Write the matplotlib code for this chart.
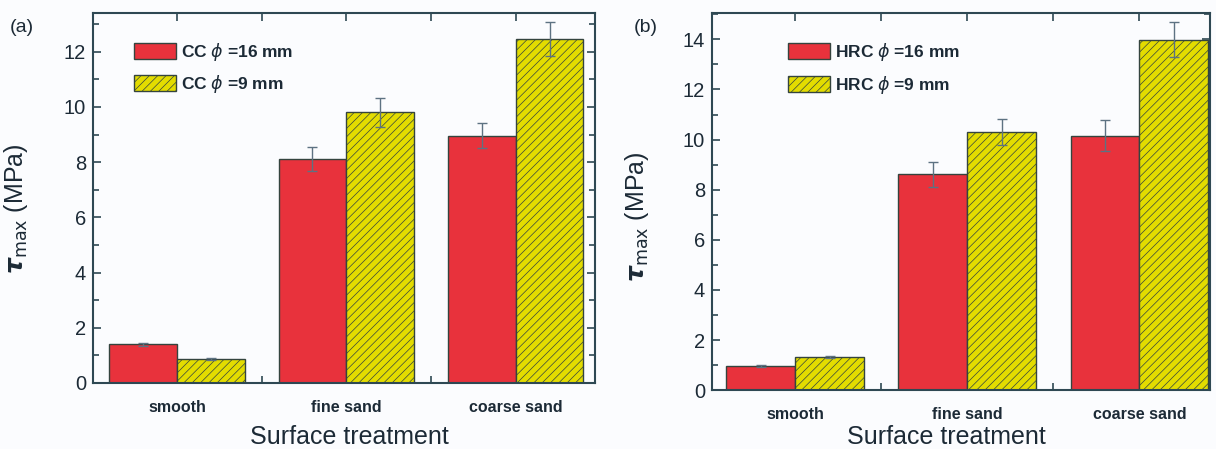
import numpy as np
from matplotlib import pyplot as plt
from matplotlib.ticker import MultipleLocator

# valeurs
traitements = ["smooth", "fine sand", "coarse sand"]

cc_16 = [1.40, 8.12, 8.95]
cc_16_err = [0.05, 0.43, 0.45]
cc_9 = [0.87, 9.80, 12.45]
cc_9_err = [0.03, 0.52, 0.62]

hrc_16 = [0.96, 8.62, 10.16]
hrc_16_err = [0.03, 0.50, 0.62]
hrc_9 = [1.32, 10.30, 13.98]
hrc_9_err = [0.05, 0.52, 0.70]

plt.rcParams['font.family'] = ['Liberation Sans', 'DejaVu Sans']
plt.rcParams['mathtext.fontset'] = 'dejavusans'
plt.rcParams['hatch.linewidth'] = 0.5

rouge = '#e8323c'
jaune = '#e3dc00'
bord = '#34443e'
txt = '#1c2a36'
axe = '#2e4853'
err_c = '#5d7282'

f = plt.figure(figsize=(12.16, 4.49), dpi=100, facecolor='#fbfcfe')
ax_a = f.add_axes([0.0765, 0.147, 0.4125, 0.824])
ax_b = f.add_axes([0.5855, 0.131, 0.4095, 0.840])


def panneau(ax, v16, e16, v9, e9, nom, ymax, xlim, leg_xy, ylab_xy, xlab_xy):
    x = np.arange(len(traitements))
    ax.set_facecolor('#fbfcfe')
    ax.bar(x - 0.2, v16, 0.4, color=rouge, edgecolor=bord, linewidth=1,
           label=nom + r' $\phi$ =16 mm', zorder=2)
    ax.bar(x + 0.2, v9, 0.4, color=jaune, edgecolor=bord, linewidth=1,
           hatch='////', label=nom + r' $\phi$ =9 mm', zorder=2)
    ax.errorbar(x - 0.2, v16, yerr=e16, fmt='none', ecolor=err_c,
                elinewidth=1, capsize=3.5, capthick=1, zorder=3)
    ax.errorbar(x + 0.2, v9, yerr=e9, fmt='none', ecolor=err_c,
                elinewidth=1, capsize=3.5, capthick=1, zorder=3)

    ax.set_xlim(*xlim)
    ax.set_ylim(0, ymax)
    ax.yaxis.set_major_locator(MultipleLocator(2))
    ax.yaxis.set_minor_locator(MultipleLocator(1))
    ax.set_xticks(x)
    ax.set_xticklabels(traitements, fontsize=11.5, fontweight='bold', color=txt)
    ax.set_xticks([0.5, 1.5], minor=True)
    ax.tick_params(axis='x', which='major', length=0, pad=12)
    ax.tick_params(axis='x', which='minor', direction='in', length=5,
                   width=1.2, color=axe, top=False)
    ax.tick_params(axis='y', which='both', direction='in', right=True,
                   color=axe, width=1.2, labelsize=14.5, labelcolor=txt, pad=5)
    ax.tick_params(axis='y', which='major', length=6)
    ax.tick_params(axis='y', which='minor', length=4)

    # graduations du haut (tous les demi-intervalles)
    haut = ax.secondary_xaxis('top')
    haut.set_xticks(np.arange(0, len(traitements) - 0.5 + 0.01, 0.5))
    haut.tick_params(direction='in', length=6, width=1.2, color=axe,
                     labeltop=False)
    haut.spines['top'].set_visible(False)

    for s in ax.spines.values():
        s.set_color(axe)
        s.set_linewidth(1.5)

    ax.set_ylabel(r'$\boldsymbol{\tau}_{\rm max}$ (MPa)', fontsize=18, color=txt)
    ax.yaxis.set_label_coords(*ylab_xy)
    ax.set_xlabel('Surface treatment', fontsize=18, color=txt)
    ax.xaxis.label.set_va('center')
    ax.xaxis.set_label_coords(*xlab_xy)

    leg = ax.legend(loc='upper left', bbox_to_anchor=leg_xy, frameon=False,
                    fontsize=12.5, handlelength=2.4, handleheight=1.05,
                    handletextpad=0.3, labelspacing=0.6, borderpad=0,
                    borderaxespad=0)
    for t in leg.get_texts():
        t.set_color(txt)
        t.set_fontweight('bold')


panneau(ax_a, cc_16, cc_16_err, cc_9, cc_9_err, 'CC', 13.4, (-0.496, 2.466),
        (0.082, 0.925), (-0.125, 0.47), (0.512, -0.146))
panneau(ax_b, hrc_16, hrc_16_err, hrc_9, hrc_9_err, 'HRC', 15.05, (-0.483, 2.41),
        (0.153, 0.925), (-0.122, 0.46), (0.47, -0.125))

f.text(0.008, 0.938, '(a)', fontsize=14, color=txt, va='center')
f.text(0.521, 0.938, '(b)', fontsize=14, color=txt, va='center')

f.savefig('out.png', dpi=100, facecolor=f.get_facecolor())
